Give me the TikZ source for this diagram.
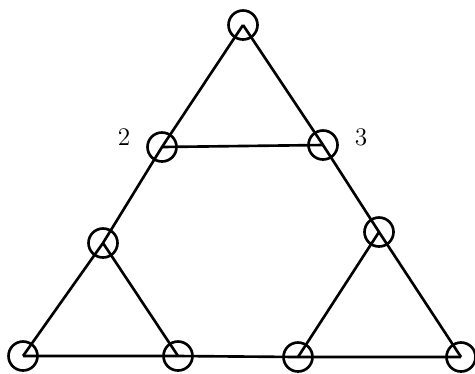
\documentclass[tikz,border=0pt]{standalone}
\usepackage{tikz}
\usetikzlibrary{positioning}

\begin{document}
\begin{tikzpicture}[
    x=0.02cm, y=-0.02cm,
    site/.style={draw, circle, line width=1.5pt, minimum size=0.58cm, inner sep=0pt},
    edge/.style={line width=1.5pt},
    num/.style={font=\Large, inner sep=0pt}
  ]
    \useasboundingbox (0,0) rectangle (475,373);

    % sites of the network
    \node[site] (apex) at (243,25)  {};
    \node[site] (p2)   at (162,147) {};
    \node[site] (p3)   at (323,145) {};
    \node[site] (pl)   at (103,243) {};
    \node[site] (pr)   at (379,232) {};
    \node[site] (bl)   at (23,356)  {};
    \node[site] (bcl)  at (178,356) {};
    \node[site] (bcr)  at (298,357) {};
    \node[site] (br)   at (461,357) {};

    % bonds
    \draw[edge] (apex.center) -- (p2.center) -- (pl.center) -- (bl.center);
    \draw[edge] (apex.center) -- (p3.center) -- (pr.center) -- (br.center);
    \draw[edge] (p2.center) -- (p3.center);
    \draw[edge] (pl.center) -- (bcl.center);
    \draw[edge] (pr.center) -- (bcr.center);
    \draw[edge] (bl.center) -- (bcl.center) -- (bcr.center) -- (br.center);

    % labels
    \node[num] (l2) at (124,137) {2};
    \node[num] (l3) at (361,137) {3};
  \end{tikzpicture}
\end{document}
